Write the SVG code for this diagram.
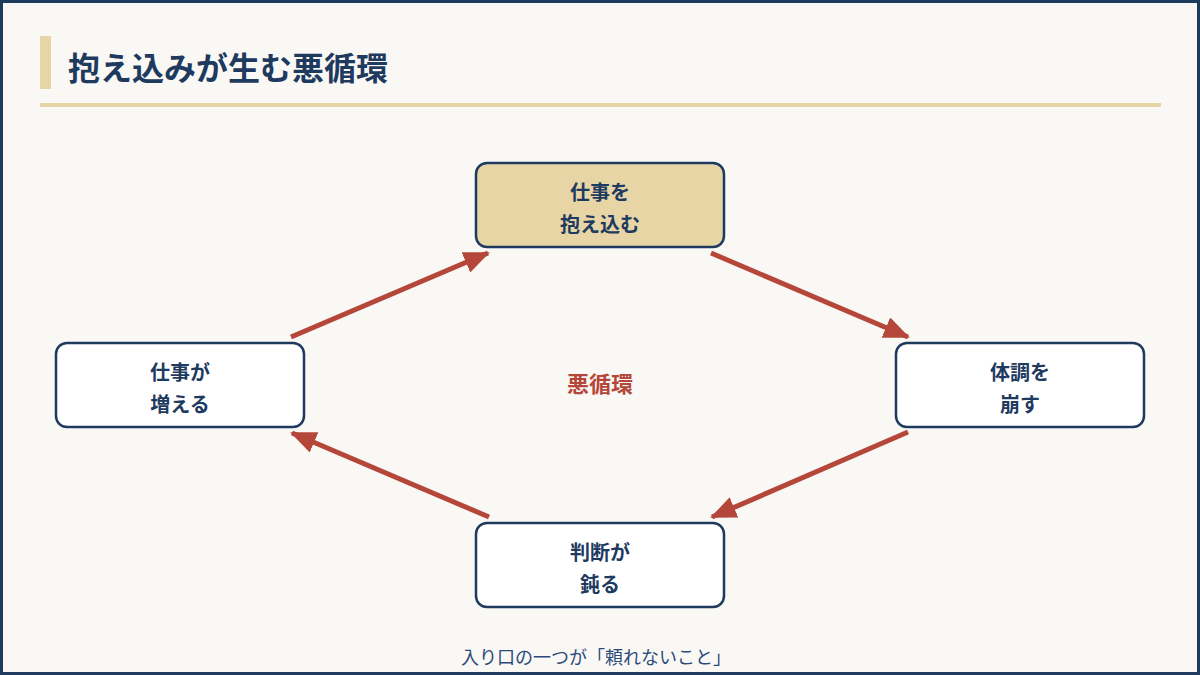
<svg xmlns="http://www.w3.org/2000/svg" width="1200" height="675" viewBox="0 0 1200 675">
<style>
text{font-family:"Noto Sans CJK JP","Noto Sans",sans-serif}
.box{fill:#ffffff;stroke:#1f3a5f;stroke-width:2.5}
.lbl{font-size:20px;font-weight:700;fill:#1f3a5f;text-anchor:middle}
.arr{stroke:#b5473a;stroke-width:5;fill:none;marker-end:url(#ah)}
</style>
<defs><marker id="ah" markerUnits="userSpaceOnUse" markerWidth="26" markerHeight="22" refX="24" refY="11" orient="auto"><path d="M0,0 L26,11 L0,22 Z" fill="#b5473a"/></marker></defs>
<rect x="1.5" y="1.5" width="1197" height="672" fill="#faf8f4" stroke="#1f3a5f" stroke-width="3"/>
<rect x="40" y="36" width="11" height="53" fill="#e8d5a6"/>
<text x="68" y="80" font-size="32" font-weight="700" fill="#1f3a5f">抱え込みが生む悪循環</text>
<rect x="40" y="103" width="1121" height="4" fill="#e8d5a6"/>
<g id="connectors">
<line class="arr" x1="711" y1="253" x2="908" y2="337"/>
<line class="arr" x1="908" y1="432" x2="712" y2="517"/>
<line class="arr" x1="489" y1="517" x2="292" y2="433"/>
<line class="arr" x1="291" y1="337" x2="488" y2="253"/>
</g>
<g id="n1"><rect class="box" x="476" y="163" width="248" height="84" rx="11" style="fill:#e8d5a6"/><text class="lbl" x="600" y="200">仕事を</text><text class="lbl" x="600" y="232">抱え込む</text></g>
<g id="n2"><rect class="box" x="896" y="343" width="248" height="84" rx="11"/><text class="lbl" x="1020" y="380">体調を</text><text class="lbl" x="1020" y="412">崩す</text></g>
<g id="n3"><rect class="box" x="476" y="523" width="248" height="84" rx="11"/><text class="lbl" x="600" y="560">判断が</text><text class="lbl" x="600" y="592">鈍る</text></g>
<g id="n4"><rect class="box" x="56" y="343" width="248" height="84" rx="11"/><text class="lbl" x="180" y="380">仕事が</text><text class="lbl" x="180" y="412">増える</text></g>
<text x="600" y="392" font-size="22" font-weight="700" fill="#b5473a" text-anchor="middle">悪循環</text>
<text x="596" y="664" font-size="18" fill="#2c4a7c" text-anchor="middle">入り口の一つが「頼れないこと」</text>
</svg>
